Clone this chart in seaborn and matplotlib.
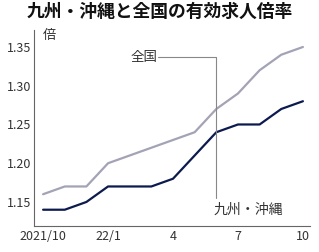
import matplotlib
matplotlib.use("Agg")
import matplotlib.pyplot as plt
import seaborn as sns
import pandas as pd

months = ["2021/10", "11", "12", "22/1", "2", "3", "4", "5", "6", "7", "8", "9", "10"]
national = [1.16, 1.17, 1.17, 1.20, 1.21, 1.22, 1.23, 1.24, 1.27, 1.29, 1.32, 1.34, 1.35]
kyushu = [1.14, 1.14, 1.15, 1.17, 1.17, 1.17, 1.18, 1.21, 1.24, 1.25, 1.25, 1.27, 1.28]
series_names = ["全国", "九州・沖縄"]
xtick_labels = ["2021/10", "", "", "22/1", "", "", "4", "", "", "7", "", "", "10"]
ytick_values = [1.15, 1.20, 1.25, 1.30, 1.35]
title = "九州・沖縄と全国の有効求人倍率"
unit = "倍"

sns.set_style("white")
plt.rcParams["font.family"] = ["Noto Sans CJK JP", "DejaVu Sans"]

df = pd.DataFrame({
    "idx": list(range(len(months))) * 2,
    "value": national + kyushu,
    "series": [series_names[0]] * len(months) + [series_names[1]] * len(months),
})

fig = plt.figure(figsize=(3.19, 2.52), dpi=100)
ax = fig.add_axes([0.1066, 0.1032, 0.8654, 0.778])

sns.lineplot(data=df, x="idx", y="value", hue="series",
             palette={series_names[0]: "#a3a3b5", series_names[1]: "#0c1a4e"},
             linewidth=1.6, legend=False, ax=ax)

ax.set_xlim(-0.42, 12.33)
ax.set_ylim(1.119, 1.372)
ax.set_xticks(range(len(months)))
ax.set_xticklabels(xtick_labels)
ax.set_yticks(ytick_values)
ax.set_yticklabels([f"{v:.2f}" for v in ytick_values])
ax.set_xlabel("")
ax.set_ylabel("")
ax.tick_params(axis="both", direction="in", length=3, width=0.8, color="#555555",
               labelsize=9, labelcolor="#333333")
ax.tick_params(axis="y", pad=2)
ax.tick_params(axis="x", pad=3)
for s in ["top", "right"]:
    ax.spines[s].set_visible(False)
for s in ["left", "bottom"]:
    ax.spines[s].set_color("#666666")
    ax.spines[s].set_linewidth(0.8)

# leader line connecting labels
ax.plot([5.3, 8, 8], [1.337, 1.337, 1.155], color="#888888", linewidth=0.8)
ax.text(5.27, 1.337, series_names[0], ha="right", va="center", fontsize=9.7, color="#333333")
ax.text(7.85, 1.140, series_names[1], ha="left", va="center", fontsize=10, color="#333333")

ax.text(0.054, 0.974, unit, transform=ax.transAxes, ha="center", va="center",
        fontsize=9.5, color="#333333")

fig.text(0.5, 0.952, title, ha="center", va="center", fontsize=12.8, fontweight="bold",
         color="#111111")

fig.savefig("out.png", dpi=100)
